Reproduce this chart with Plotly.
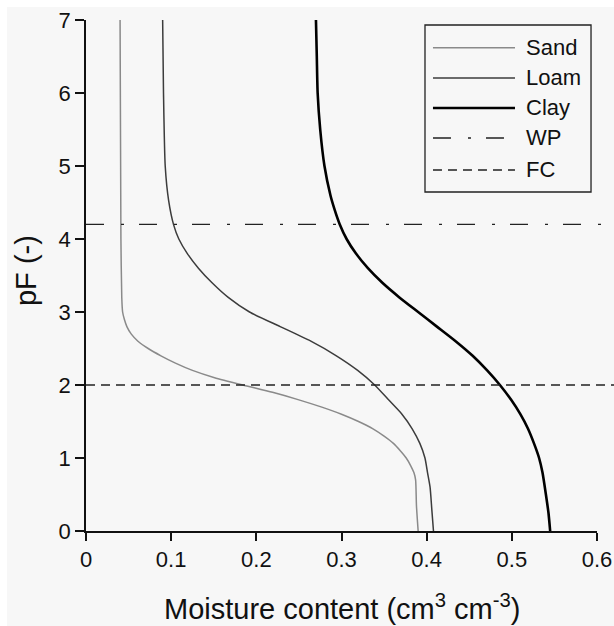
import plotly.graph_objects as go

# Retention curves: pF (-) vs moisture content (cm3 cm-3)
sand_pf = [7, 4, 3.2, 3.0, 2.9, 2.8, 2.7, 2.6, 2.5, 2.4, 2.3, 2.2, 2.1, 2.0, 1.9, 1.8, 1.7, 1.6, 1.5, 1.4, 1.3, 1.2, 1.1, 1.0, 0.9, 0.8, 0.7, 0.35, 0]
sand_theta = [0.040, 0.041, 0.042, 0.043, 0.045, 0.048, 0.053, 0.061, 0.073, 0.088, 0.105, 0.125, 0.151, 0.184, 0.219, 0.249, 0.276, 0.300, 0.320, 0.337, 0.350, 0.361, 0.369, 0.376, 0.381, 0.385, 0.387, 0.388, 0.390]

loam_pf = [7, 6, 5, 4.53, 4.19, 4.0, 3.8, 3.6, 3.4, 3.2, 3.0, 2.8, 2.6, 2.4, 2.2, 2.0, 1.8, 1.6, 1.4, 1.2, 1.0, 0.8, 0.6, 0.3, 0]
loam_theta = [0.090, 0.091, 0.093, 0.097, 0.103, 0.109, 0.119, 0.132, 0.148, 0.167, 0.192, 0.228, 0.264, 0.294, 0.319, 0.339, 0.355, 0.371, 0.383, 0.392, 0.398, 0.401, 0.404, 0.406, 0.408]

clay_pf = [7, 6.5, 6.0, 5.5, 5.0, 4.6, 4.4, 4.2, 4.0, 3.8, 3.6, 3.4, 3.2, 3.0, 2.8, 2.6, 2.4, 2.2, 2.0, 1.8, 1.6, 1.4, 1.2, 1.0, 0.8, 0.5, 0.25, 0]
clay_theta = [0.270, 0.271, 0.272, 0.275, 0.280, 0.287, 0.292, 0.298, 0.306, 0.317, 0.331, 0.348, 0.368, 0.390, 0.412, 0.434, 0.454, 0.471, 0.486, 0.499, 0.510, 0.519, 0.526, 0.532, 0.536, 0.540, 0.543, 0.545]

wp_pf = 4.2
fc_pf = 2.0

x_ticks = [0, 0.1, 0.2, 0.3, 0.4, 0.5, 0.6]
x_ticklabels = ["0", "0.1", "0.2", "0.3", "0.4", "0.5", "0.6"]
y_ticks = [0, 1, 2, 3, 4, 5, 6, 7]

x_title = "Moisture content (cm<sup>3</sup> cm<sup>-3</sup>)"
y_title = "pF (-)"

FONT = "Liberation Sans, Arial, Helvetica, sans-serif"
BG = "#f7f7f7"
INK = "#111111"

fig = go.Figure()
fig.add_trace(go.Scatter(x=sand_theta, y=sand_pf, mode="lines", name="Sand",
                         line=dict(color="#8a8a8a", width=1.5, shape="spline", smoothing=0.6)))
fig.add_trace(go.Scatter(x=loam_theta, y=loam_pf, mode="lines", name="Loam",
                         line=dict(color="#3c3c3c", width=1.5, shape="spline", smoothing=0.6)))
fig.add_trace(go.Scatter(x=clay_theta, y=clay_pf, mode="lines", name="Clay",
                         line=dict(color="#000000", width=2.6, shape="spline", smoothing=0.6)))

shapes = []
# light background with a thin white border at left/top
shapes.append(dict(type="rect", xref="paper", yref="paper", x0=-0.1546, x1=1.06, y0=-0.25, y1=1.0254,
                   fillcolor=BG, line=dict(width=0), layer="below"))
WP_DASH = "18px,17px,3px,15px"
FC_DASH = "9px,6px"
shapes.append(dict(type="line", xref="paper", yref="y", x0=0, x1=1.04, y0=wp_pf, y1=wp_pf,
                   line=dict(color="#222222", width=1.3, dash=WP_DASH)))
shapes.append(dict(type="line", xref="paper", yref="y", x0=0, x1=1.04, y0=fc_pf, y1=fc_pf,
                   line=dict(color="#222222", width=1.3, dash=FC_DASH)))

# custom legend
lx0, lx1 = 0.6634, 0.9883
ly0, ly1 = 0.6634, 0.9902
shapes.append(dict(type="rect", xref="paper", yref="paper", x0=lx0, x1=lx1, y0=ly0, y1=ly1,
                   fillcolor=BG, line=dict(color="#222222", width=1.3)))
leg_items = [
    ("Sand", "#8a8a8a", 1.5, "solid", 0.9458),
    ("Loam", "#3c3c3c", 1.5, "solid", 0.8865),
    ("Clay", "#000000", 2.6, "solid", 0.8278),
    ("WP", "#222222", 1.3, WP_DASH, 0.7691),
    ("FC", "#222222", 1.3, FC_DASH, 0.7065),
]
annotations = []
for name, col, w, dash, yy in leg_items:
    shapes.append(dict(type="line", xref="paper", yref="paper", x0=0.679, x1=0.8395, y0=yy, y1=yy,
                       line=dict(color=col, width=w, dash=dash)))
    annotations.append(dict(text=name, xref="paper", yref="paper", x=0.857, y=yy, xanchor="left",
                            yanchor="middle", showarrow=False, font=dict(family=FONT, size=22, color=INK)))

# axis titles
annotations.append(dict(text=x_title, xref="paper", yref="paper", x=0.5, y=-0.1487,
                        xanchor="center", yanchor="middle", showarrow=False,
                        font=dict(family=FONT, size=29, color=INK)))
annotations.append(dict(text=y_title, xref="paper", yref="paper", x=-0.1174, y=0.5088,
                        xanchor="center", yanchor="middle", textangle=-90, showarrow=False,
                        font=dict(family=FONT, size=29, color=INK)))

fig.update_layout(
    width=614, height=626,
    margin=dict(l=86, r=17, t=20, b=95, autoexpand=False),
    paper_bgcolor="#ffffff",
    plot_bgcolor=BG,
    showlegend=False,
    shapes=shapes,
    annotations=annotations,
    font=dict(family=FONT, size=22, color=INK),
)
fig.update_xaxes(range=[0, 0.6], tickvals=x_ticks, ticktext=x_ticklabels, automargin=False,
                 showgrid=False, zeroline=False, showline=True, linecolor=INK, linewidth=1.5,
                 ticks="outside", ticklen=8, tickwidth=1.5, tickcolor=INK,
                 tickfont=dict(family=FONT, size=22, color=INK))
fig.update_yaxes(range=[0, 7], tickvals=y_ticks, automargin=False,
                 showgrid=False, zeroline=False, showline=True, linecolor=INK, linewidth=1.5,
                 ticks="outside", ticklen=9, tickwidth=1.5, tickcolor=INK,
                 tickfont=dict(family=FONT, size=22, color=INK))

fig.write_html("out.html")
